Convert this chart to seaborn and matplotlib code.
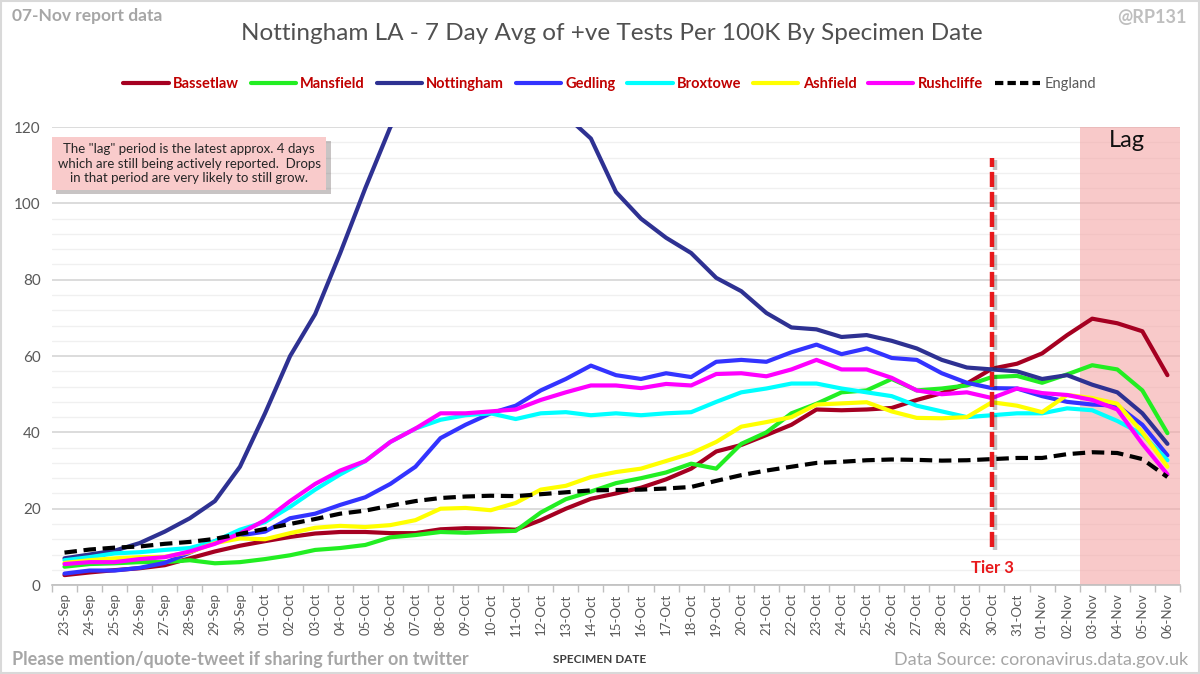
import numpy as np
import pandas as pd
import seaborn as sns
import matplotlib.pyplot as plt
import matplotlib.patheffects as pe
from matplotlib.lines import Line2D
from matplotlib.patches import Rectangle

# === data ===
dates = pd.date_range('2020-09-23', '2020-11-06').strftime('%d-%b').tolist()

bassetlaw = [2.6, 3.3, 3.9, 4.4, 5.2, 7.0, 8.8, 10.3, 11.5, 12.6, 13.5, 13.9, 13.9, 13.6, 13.6,
             14.6, 14.9, 14.8, 14.5, 17.0, 20.0, 22.6, 24.0, 25.5, 27.7, 30.5, 35.0, 36.7, 39.3,
             42.0, 46.0, 45.8, 46.0, 46.4, 48.5, 50.3, 52.8, 56.7, 58.0, 60.7, 65.5, 69.8, 68.6,
             66.5, 55.0]
mansfield = [4.8, 5.5, 5.7, 6.0, 6.0, 6.5, 5.7, 6.0, 6.8, 7.8, 9.2, 9.7, 10.5, 12.5, 13.1,
             13.9, 13.7, 14.0, 14.2, 19.0, 22.5, 24.5, 26.7, 28.0, 29.5, 31.8, 30.5, 37.0, 40.0,
             45.0, 47.5, 50.5, 51.0, 54.0, 51.0, 51.5, 52.3, 54.5, 54.8, 53.0, 55.2, 57.6, 56.5,
             51.0, 39.8]
nottingham = [7.0, 8.0, 9.0, 11.0, 14.0, 17.5, 22.0, 31.0, 45.0, 60.0, 71.0, 87.0, 104.0, 120.0, 130.0,
              138.0, 142.0, 143.0, 140.0, 133.0, 123.0, 117.0, 103.0, 96.0, 91.0, 87.0, 80.5, 77.0, 71.3,
              67.5, 67.0, 65.0, 65.5, 64.0, 62.0, 59.0, 57.0, 56.5, 56.0, 54.0, 55.0, 52.5, 50.5,
              45.0, 37.0]
gedling = [3.0, 3.8, 3.8, 4.5, 5.8, 8.5, 11.5, 13.0, 14.0, 17.5, 18.7, 21.0, 23.0, 26.5, 31.0,
           38.5, 42.0, 45.0, 47.0, 51.0, 54.0, 57.5, 55.0, 54.0, 55.5, 54.5, 58.5, 59.0, 58.5,
           61.0, 63.0, 60.5, 62.0, 59.5, 59.0, 55.5, 53.0, 51.6, 51.5, 49.5, 48.0, 47.3, 47.0,
           42.0, 34.0]
broxtowe = [6.5, 7.3, 8.3, 8.6, 9.2, 9.7, 11.5, 14.5, 16.5, 20.5, 25.0, 29.0, 32.5, 37.5, 41.0,
            43.3, 44.5, 45.0, 43.5, 45.0, 45.3, 44.5, 45.0, 44.5, 45.0, 45.3, 48.0, 50.5, 51.5,
            52.8, 52.8, 51.5, 50.5, 49.5, 47.0, 45.5, 44.0, 44.5, 45.0, 45.0, 46.3, 45.8, 43.0,
            39.5, 32.7]
ashfield = [5.8, 6.5, 7.0, 7.3, 7.4, 8.6, 11.0, 12.2, 12.0, 13.6, 15.0, 15.5, 15.2, 15.7, 17.0,
            20.0, 20.2, 19.6, 21.5, 25.0, 26.0, 28.3, 29.6, 30.5, 32.5, 34.5, 37.5, 41.5, 42.7,
            44.0, 47.3, 47.6, 47.9, 45.5, 43.8, 43.7, 44.0, 47.9, 47.0, 45.3, 49.8, 49.0, 47.5,
            40.0, 31.0]
rushcliffe = [5.5, 6.0, 6.0, 6.8, 7.3, 8.8, 10.8, 13.5, 17.0, 22.0, 26.5, 30.0, 32.5, 37.5, 41.0,
              45.0, 45.0, 45.5, 46.0, 48.5, 50.5, 52.3, 52.3, 51.6, 52.7, 52.3, 55.3, 55.5, 54.7,
              56.5, 59.0, 56.5, 56.5, 54.3, 51.0, 50.0, 50.5, 49.0, 51.5, 50.3, 49.8, 48.5, 46.0,
              37.0, 29.0]
england = [8.5, 9.3, 9.8, 10.1, 10.8, 11.3, 12.1, 13.4, 14.7, 16.0, 17.3, 18.7, 19.5, 20.8, 22.0,
           22.8, 23.2, 23.4, 23.3, 23.8, 24.3, 24.8, 24.9, 25.0, 25.3, 25.7, 27.3, 28.8, 30.0,
           31.0, 32.0, 32.3, 32.7, 32.9, 32.8, 32.6, 32.7, 33.0, 33.3, 33.3, 34.3, 34.8, 34.6,
           33.0, 28.3]

series_names = ['Bassetlaw', 'Mansfield', 'Nottingham', 'Gedling', 'Broxtowe',
                'Ashfield', 'Rushcliffe', 'England']
series_values = [bassetlaw, mansfield, nottingham, gedling, broxtowe, ashfield, rushcliffe, england]
series_colors = ['#A50021', '#22EE22', '#2E3192', '#3333FF', '#00FFFF',
                 '#FFFF00', '#FF00FF', '#000000']

tier3_date = '30-Oct'
lag_days = 4

# === style ===
sns.set_theme(style='white')
plt.rcParams['font.family'] = ['Lato', 'DejaVu Sans']

fig = plt.figure(figsize=(12, 6.74), dpi=100)
ax = fig.add_axes([0.0433, 0.132, 0.9400, 0.6794])

xs = np.arange(len(dates))

# lag shading
ax.axvspan(len(dates) - lag_days - 0.5, len(dates) - 0.5, color='#F4A6A6', alpha=0.6,
           lw=0, zorder=1)

for name, vals, col in zip(series_names, series_values, series_colors):
    if name == 'England':
        sns.lineplot(x=xs, y=vals, color=col, linewidth=3, linestyle=(0, (3, 1.6)),
                     ax=ax, zorder=3)
    else:
        sns.lineplot(x=xs, y=vals, color=col, linewidth=3, ax=ax, zorder=3)

# tier 3 marker
tx = dates.index(tier3_date)
ax.plot([tx, tx], [10, 112], color='#E8191C', lw=3.2, linestyle=(0, (3.4, 1.1)), zorder=4,
        path_effects=[pe.SimpleLineShadow(offset=(2, -2), alpha=0.25), pe.Normal()])
ax.text(tx, 4.5, 'Tier 3', color='#E8191C', fontsize=12, fontweight='bold',
        ha='center', va='center', zorder=5)
ax.text(len(dates) - lag_days / 2 - 0.5 - 0.1, 116.5, 'Lag', color='#111111', fontsize=17,
        ha='center', va='center', zorder=5)

# axes
ax.set_xlim(-0.5, len(dates) - 0.5)
ax.set_ylim(0, 120)
ax.set_xticks(xs)
ax.set_xticklabels(dates, rotation=90, fontsize=9.5, color='#595959')
ax.set_xticks(np.arange(-0.5, len(dates), 1), minor=True)
ax.tick_params(axis='x', which='major', length=0, pad=6)
ax.tick_params(axis='x', which='minor', length=5, color='#BFBFBF', width=1, bottom=True)
ax.set_yticks(range(0, 121, 20))
ax.set_yticks(range(0, 121, 4), minor=True)
ax.tick_params(axis='y', which='both', length=0, labelsize=11, labelcolor='#595959', pad=8)
ax.grid(which='major', axis='y', color='#D9D9D9', lw=1.3, zorder=0)
ax.grid(which='minor', axis='y', color='#F0F0F0', lw=1, zorder=0)
ax.grid(which='both', axis='x', visible=False)
ax.set_axisbelow(True)
for s in ['top', 'right', 'left']:
    ax.spines[s].set_visible(False)
ax.spines['bottom'].set_color('#BFBFBF')
ax.spines['bottom'].set_linewidth(1.2)
ax.set_xlabel('')
ax.set_ylabel('')

# lag note box
note = fig.text(189 / 1200, 1 - 163.5 / 674,
                'The "lag" period is the latest approx. 4 days\n'
                'which are still being actively reported.  Drops\n'
                'in that period are very likely to still grow.',
                ha='center', va='center', fontsize=9.5, color='#262626', linespacing=1.25,
                bbox=dict(boxstyle='square,pad=0.45', facecolor='#F9CBCB', edgecolor='none'))
note.get_bbox_patch().set_path_effects([pe.SimplePatchShadow(offset=(3, -3), alpha=0.3),
                                        pe.Normal()])

# legend
handles = []
for name, col in zip(series_names, series_colors):
    ls = (0, (2, 1)) if name == 'England' else '-'
    handles.append(Line2D([], [], color=col, lw=3, linestyle=ls))
leg = fig.legend(handles, series_names, loc='center', bbox_to_anchor=(0.508, 0.875), ncol=8,
                 frameon=False, handlelength=3.1, columnspacing=0.8, handletextpad=0.3,
                 prop={'weight': 'bold', 'size': 10.5})
for t, name in zip(leg.get_texts(), series_names):
    if name == 'England':
        t.set_color('#595959')
        t.set_fontweight('normal')
    else:
        t.set_color('#C00000')

# titles and notes
fig.text(0.51, 0.951, 'Nottingham LA - 7 Day Avg of +ve Tests Per 100K By Specimen Date',
         ha='center', va='center', fontsize=17.5, color='#505050', fontweight='normal')
fig.text(0.01, 0.976, '07-Nov report data', ha='left', va='center', fontsize=12.5,
         color='#A6A6A6', fontweight='bold')
fig.text(0.989, 0.974, '@RP131', ha='right', va='center', fontsize=13,
         color='#BFBFBF', fontweight='bold')
fig.text(0.01, 0.021, 'Please mention/quote-tweet if sharing further on twitter', ha='left',
         va='center', fontsize=13, color='#A6A6A6', fontweight='bold')
fig.text(0.99, 0.021, 'Data Source: coronavirus.data.gov.uk', ha='right', va='center',
         fontsize=13, color='#A6A6A6')
fig.text(0.5, 0.021, 'SPECIMEN DATE', ha='center', va='center', fontsize=8.5,
         color='#404040', fontweight='bold')

fig.patches.append(Rectangle((0.001, 0.001), 0.998, 0.997, transform=fig.transFigure,
                             fill=False, edgecolor='#D9D9D9', lw=1.5))

fig.savefig('out.png', dpi=100)
